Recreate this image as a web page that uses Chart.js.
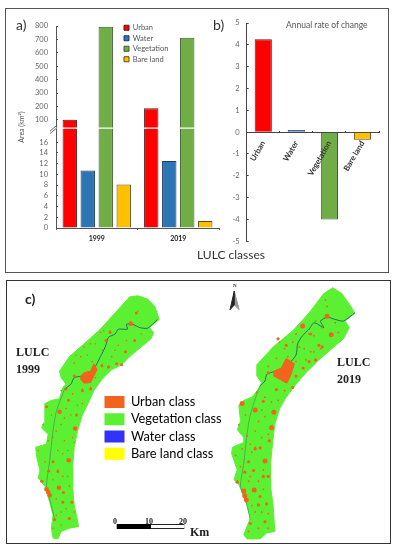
<!DOCTYPE html>
<html>
<head>
<meta charset="utf-8">
<title>LULC</title>
<script src="https://cdn.jsdelivr.net/npm/chart.js@4/dist/chart.umd.min.js"></script>
<style>
html, body { margin: 0; padding: 0; background: #fff; }
body { width: 398px; height: 550px; position: relative; overflow: hidden; font-family: Lato, "Open Sans", sans-serif; }
canvas { position: absolute; }
.frame { position: absolute; box-sizing: border-box; }
.txt { position: absolute; white-space: nowrap; line-height: 1; }
.serif { font-family: "Liberation Serif", serif; font-weight: bold; color: #222; }
</style>
</head>
<body>
<div class="frame" style="left:5px;top:8px;width:384px;height:265px;border:1px solid #555"></div>
<div class="frame" style="left:6px;top:280px;width:385px;height:264px;border:1px solid #333"></div>
<canvas id="chartA" width="225" height="275" style="left:0;top:0"></canvas>
<canvas id="chartB" width="173" height="275" style="left:225px;top:0"></canvas>
<canvas id="chartC" width="398" height="275" style="left:0;top:275px"></canvas>

<div class="txt" style="left:16px;top:18px;font-size:14px;color:#333">a)</div>
<div class="txt" style="left:213px;top:18px;font-size:14px;color:#333">b)</div>
<div class="txt" style="left:286px;top:21px;font-size:8.5px;color:#555">Annual rate of change</div>
<div class="txt" style="left:197px;top:249px;font-size:12px;color:#333">LULC classes</div>
<div class="txt" style="left:25px;top:292px;font-size:14px;font-weight:bold;color:#222">c)</div>
<div class="txt serif" style="left:16px;top:346px;font-size:12px">LULC</div>
<div class="txt serif" style="left:16px;top:363px;font-size:12px">1999</div>
<div class="txt serif" style="left:337px;top:356px;font-size:12px">LULC</div>
<div class="txt serif" style="left:337px;top:373px;font-size:12px">2019</div>
<div class="txt serif" style="left:113px;top:518px;font-size:8px">0</div>
<div class="txt serif" style="left:145px;top:518px;font-size:8px">10</div>
<div class="txt serif" style="left:179px;top:518px;font-size:8px">20</div>
<div class="txt serif" style="left:190px;top:526px;font-size:12px">Km</div>
<div class="txt serif" style="left:233px;top:283px;font-size:5px">N</div>

<script>
// panel a
var years = ['1999', '2019'];
var urbanArea = [100, 187];
var waterArea = [10.7, 12.5];
var vegetationArea = [795, 712];
var bareArea = [8.1, 1.3];
var areaTicks = [0, 2, 4, 6, 8, 10, 12, 14, 16, 100, 200, 300, 400, 500, 600, 700, 800];
var breakLow = 18.6;
var breakHigh = 38;

// panel b
var classes = ['Urban', 'Water', 'Vegetation', 'Bare land'];
var changeRate = [4.25, 0.1, -4, -0.35];
var classColors = ['#ff0000', '#2e75b6', '#70ad47', '#ffc000'];
var classBorders = ['#5a1a1a', '#1f3a5a', '#3d5c2a', '#5c4a10'];

// panel c, values are map units (3 per reference pixel)
var mapClasses = ['Urban class', 'Vegetation class', 'Water class', 'Bare land class'];
var mapColors = ['#f2641e', '#5cf032', '#3232ff', '#ffff00'];
var rightMapOffset = 594;
var outline1999 = [[385,55],[410,52],[440,62],[462,85],[475,125],[445,150],[458,165],[450,185],[420,210],[390,235],[360,265],[330,280],[300,310],[275,345],[262,375],[240,420],[225,470],[215,520],[210,580],[210,640],[215,700],[225,745],[228,765],[200,770],[175,780],[165,803],[150,800],[145,770],[150,730],[140,690],[125,640],[105,615],[110,590],[100,550],[97,520],[130,510],[135,480],[115,460],[125,440],[125,385],[145,375],[170,370],[180,335],[190,325],[175,305],[170,285],[200,240],[240,205],[290,160],[340,105],[385,55]];
var outline2019 = [[385,45],[412,27],[440,45],[465,80],[480,105],[450,130],[463,150],[445,185],[410,215],[370,250],[330,290],[300,325],[270,365],[250,400],[235,450],[228,510],[222,570],[222,640],[230,700],[235,780],[210,785],[190,803],[150,803],[140,790],[160,740],[150,700],[135,660],[125,635],[110,620],[120,590],[103,540],[105,520],[140,505],[140,490],[120,465],[130,440],[125,390],[140,375],[165,365],[185,340],[195,320],[180,300],[180,265],[230,210],[290,160],[340,105],[385,45]];
var river1999 = [[470,125],[440,152],[415,150],[395,140],[375,140],[378,155],[350,155],[340,170],[320,180],[310,210],[295,240],[280,270],[260,295],[215,305],[205,325],[185,340]];
var stream1999 = [[185,340],[160,410],[150,470],[140,560],[130,640],[140,680],[150,720],[155,745]];
var river2019 = [[480,105],[445,130],[420,125],[395,118],[375,130],[385,150],[355,135],[340,155],[320,175],[305,200],[300,235],[270,270],[235,285],[210,295],[205,315],[190,330]];
var stream2019 = [[190,330],[180,355],[160,420],[150,480],[140,570],[130,640],[145,680],[155,720],[160,745]];
var town1999 = [[235,300],[245,290],[265,285],[275,262],[285,280],[275,300],[265,320],[245,322],[235,310],[235,300]];
var town2019 = [[232,285],[255,275],[270,245],[295,262],[285,295],[272,322],[250,310],[232,300],[232,285]];
var bigDots1999 = [[388,138],[135,658],[170,410],[218,462],[198,560],[168,645],[130,650],[140,668]];
var bigDots2019 = [[395,115],[175,405],[225,460],[205,562],[172,652],[143,670],[140,655],[135,385],[232,412],[320,145],[408,172],[148,682]];
var midDots1999 = [[130,395],[150,565],[137,593],[182,660],[200,740],[222,420],[197,375],[345,262],[360,265],[312,190],[400,190],[325,165],[215,300],[190,340],[155,743],[180,690],[208,690],[240,345],[265,340],[300,268],[320,272],[372,225],[405,105],[165,595],[115,625]];
var midDots2019 = [[322,275],[360,250],[340,255],[155,565],[143,597],[170,592],[190,672],[205,750],[218,500],[200,378],[245,185],[270,205],[370,205],[190,522],[215,290],[290,335],[240,342],[160,755],[185,698],[210,695],[200,610],[215,610],[175,525],[300,300],[380,210],[345,170],[120,628]];
var smallDots1999 = [[245,210],[265,200],[295,165],[325,160],[305,160],[370,225],[350,205],[400,145],[410,100],[340,220],[300,220],[255,235],[235,240],[215,260],[320,270],[300,265],[280,305],[240,340],[265,335],[210,355],[175,345],[225,390],[240,385],[190,400],[145,420],[175,450],[150,490],[205,420],[210,490],[215,505],[120,450],[135,500],[185,500],[105,530],[165,530],[180,540],[125,565],[165,590],[195,610],[115,625],[150,620],[200,640],[120,625],[160,680],[175,720],[190,710],[215,720],[150,770],[175,760],[280,200],[330,240],[270,255],[220,235],[420,170],[375,190],[185,430],[160,470],[195,530],[180,610],[160,730]];
var smallDots2019 = [[250,195],[265,215],[300,170],[340,170],[355,175],[375,215],[355,225],[420,135],[395,85],[345,225],[310,210],[275,240],[240,245],[215,270],[330,250],[300,255],[300,300],[265,345],[205,365],[180,350],[225,380],[245,375],[195,405],[145,420],[175,470],[150,485],[205,425],[215,480],[160,510],[125,450],[135,525],[175,520],[115,545],[165,535],[130,580],[200,590],[215,610],[120,625],[155,625],[175,720],[195,720],[215,725],[155,780],[185,770],[215,770],[380,150],[360,130],[290,195],[325,215],[280,290],[430,165],[390,65],[185,440],[195,490],[160,610],[185,625],[165,700],[200,650]];
var scaleBlack = [[345,765],[450,765]];
var scaleWhite = [[450,765],[552,765]];
var northLeft = [[705,37],[692,95],[705,80],[705,37]];
var northRight = [[705,37],[720,95],[705,80],[705,37]];

function pts(list, dx) {
  return list.map(function (p) { return { x: p[0] + dx, y: p[1] }; });
}

// y axis of panel a has two parts, one each side of the break
class BrokenScale extends Chart.LinearScale {
  buildTicks() {
    return areaTicks.map(function (v) { return { value: v }; });
  }
  getPixelForValue(v) {
    var f = 100 / 202.3;
    if (v <= breakLow) return this.getPixelForDecimal(v / breakLow * f);
    if (v <= breakHigh) return this.getPixelForDecimal(f);
    return this.getPixelForDecimal(f + (v - breakHigh) / (this.max - breakHigh) * (1 - f));
  }
}
BrokenScale.id = 'broken';
BrokenScale.defaults = {};
Chart.register(BrokenScale);

Chart.defaults.animation = false;
Chart.defaults.font.family = 'Lato, "Open Sans", sans-serif';
Chart.defaults.plugins.tooltip.enabled = false;

// the legend of a chart sits where plugins.moveLegend says
var moveLegend = {
  id: 'moveLegend',
  afterLayout: function (chart) {
    var at = chart.options.plugins.moveLegend;
    var lg = chart.legend;
    if (!at || !lg) return;
    lg.left = at.x; lg.top = at.y;
    lg.right = at.x + lg.width; lg.bottom = at.y + lg.height;
    lg.adjustHitBoxes();
  }
};

var breakMark = {
  id: 'breakMark',
  afterDraw: function (chart) {
    var c = chart.ctx, s = chart.scales.y;
    var y = s.getPixelForValue(breakLow);
    c.save();
    c.strokeStyle = '#fff';
    c.lineWidth = 1.4;
    c.beginPath();
    c.moveTo(s.right - 3, y); c.lineTo(chart.chartArea.right, y);
    c.stroke();
    c.strokeStyle = '#444';
    c.lineWidth = 0.8;
    c.beginPath();
    c.moveTo(s.right - 6, y + 3); c.lineTo(s.right + 1, y - 3);
    c.moveTo(s.right - 6, y + 5.5); c.lineTo(s.right + 1, y - 0.5);
    c.stroke();
    c.restore();
  }
};

function bar(label, values, i) {
  return {
    label: label,
    data: values,
    backgroundColor: classColors[i],
    borderColor: classBorders[i],
    borderWidth: 1,
    barPercentage: 0.8,
    categoryPercentage: 0.883
  };
}

new Chart(document.getElementById('chartA'), {
  type: 'bar',
  plugins: [moveLegend, breakMark],
  data: {
    labels: years,
    datasets: [
      bar(classes[0], urbanArea, 0),
      bar(classes[1], waterArea, 1),
      bar(classes[2], vegetationArea, 2),
      bar(classes[3], bareArea, 3)
    ]
  },
  options: {
    responsive: false,
    layout: { padding: { left: 18, right: 6, top: 26, bottom: 27 } },
    plugins: {
      moveLegend: { x: 121, y: 21 },
      legend: {
        position: 'chartArea',
        align: 'start',
        labels: { boxWidth: 5, boxHeight: 5, padding: 3, color: '#555', font: { size: 7.5 } }
      }
    },
    scales: {
      x: {
        afterFit: function (s) { s.height = 20; },
        border: { color: '#555' },
        grid: { drawOnChartArea: false, tickLength: 2, color: '#555' },
        ticks: { color: '#222', font: { size: 7, weight: 'bold' }, padding: 5, maxRotation: 0 }
      },
      y: {
        type: 'broken',
        min: 0,
        max: 800,
        afterFit: function (s) { s.width = 38; },
        border: { color: '#555' },
        grid: { drawOnChartArea: false, tickLength: -2, color: '#555' },
        title: { display: true, text: 'Area (km²)', color: '#555', font: { size: 7 }, padding: 0 },
        ticks: { color: '#666', font: { size: 7.5 }, padding: 10, autoSkip: false, callback: function (v) { return String(v); } }
      }
    }
  }
});

new Chart(document.getElementById('chartB'), {
  type: 'bar',
  data: {
    labels: classes,
    datasets: [{
      label: 'Annual rate of change',
      data: changeRate,
      backgroundColor: classColors,
      borderColor: classBorders,
      borderWidth: 1,
      barPercentage: 0.52,
      categoryPercentage: 1
    }]
  },
  options: {
    responsive: false,
    layout: { padding: { left: 3.7, right: 19, top: 23, bottom: 33.7 } },
    plugins: { legend: { display: false } },
    scales: {
      x: {
        position: { y: 0 },
        border: { color: '#444' },
        grid: { drawOnChartArea: false, tickLength: -2, color: '#444' },
        ticks: { color: '#333', font: { size: 8, weight: 'bold' }, minRotation: 60, maxRotation: 60, padding: 9, z: 1 }
      },
      y: {
        min: -5,
        max: 5,
        afterFit: function (s) { s.width = 18; },
        border: { color: '#444' },
        grid: { drawOnChartArea: false, tickLength: -2, color: '#444' },
        ticks: { stepSize: 1, color: '#666', font: { size: 7.5 }, padding: 9 }
      }
    }
  }
});

function area(label, list, dx, color, order) {
  return { label: label, data: pts(list, dx), showLine: true, fill: 'shape', tension: 0, backgroundColor: color, borderColor: color, borderWidth: 1, pointRadius: 0, order: order };
}
function line(label, list, dx, color, width, order) {
  return { label: label, data: pts(list, dx), showLine: true, fill: false, tension: 0.2, borderColor: color, borderWidth: width, pointRadius: 0, order: order };
}
function dots(label, list, dx, r) {
  return { label: label, data: pts(list, dx), showLine: false, pointRadius: r, pointBorderWidth: 0, pointBackgroundColor: mapColors[0], order: 1 };
}

new Chart(document.getElementById('chartC'), {
  type: 'scatter',
  data: {
    datasets: [
      area('Vegetation 1999', outline1999, 0, mapColors[1], 6),
      area('Vegetation 2019', outline2019, rightMapOffset, mapColors[1], 6),
      area('Urban 1999', town1999, 0, mapColors[0], 2),
      area('Urban 2019', town2019, rightMapOffset, mapColors[0], 2),
      line('Water 1999', river1999, 0, '#1f6f6a', 1, 3),
      line('Water 2019', river2019, rightMapOffset, '#1f6f6a', 1, 3),
      line('Stream 1999', stream1999, 0, '#3f9a55', 0.7, 3),
      line('Stream 2019', stream2019, rightMapOffset, '#3f9a55', 0.7, 3),
      dots('Urban 1999 big', bigDots1999, 0, 2.3),
      dots('Urban 2019 big', bigDots2019, rightMapOffset, 2.5),
      dots('Urban 1999 mid', midDots1999, 0, 1.5),
      dots('Urban 2019 mid', midDots2019, rightMapOffset, 1.6),
      dots('Urban 1999 small', smallDots1999, 0, 0.8),
      dots('Urban 2019 small', smallDots2019, rightMapOffset, 0.9),
      line('Scale white', scaleWhite, 0, '#222', 5, 5),
      line('Scale white inner', scaleWhite, 0, '#fff', 3, 4),
      line('Scale black', scaleBlack, 0, '#000', 5, 4),
      area('North left', northLeft, 0, '#222', 4),
      area('North right', northRight, 0, '#999', 4)
    ]
  },
  plugins: [moveLegend],
  options: {
    responsive: false,
    layout: { padding: 0 },
    plugins: {
      moveLegend: { x: 100, y: 116 },
      legend: {
        position: 'chartArea',
        align: 'start',
        labels: {
          boxWidth: 20,
          boxHeight: 12,
          padding: 4.5,
          color: '#333',
          font: { size: 12.8 },
          generateLabels: function () {
            return mapClasses.map(function (t, i) {
              return { text: t, fillStyle: mapColors[i], strokeStyle: mapColors[i], lineWidth: 0, datasetIndex: 0 };
            });
          }
        }
      }
    },
    scales: {
      x: { display: false, min: 0, max: 1194 },
      y: { display: false, min: 0, max: 825, reverse: true }
    }
  }
});
</script>
</body>
</html>
